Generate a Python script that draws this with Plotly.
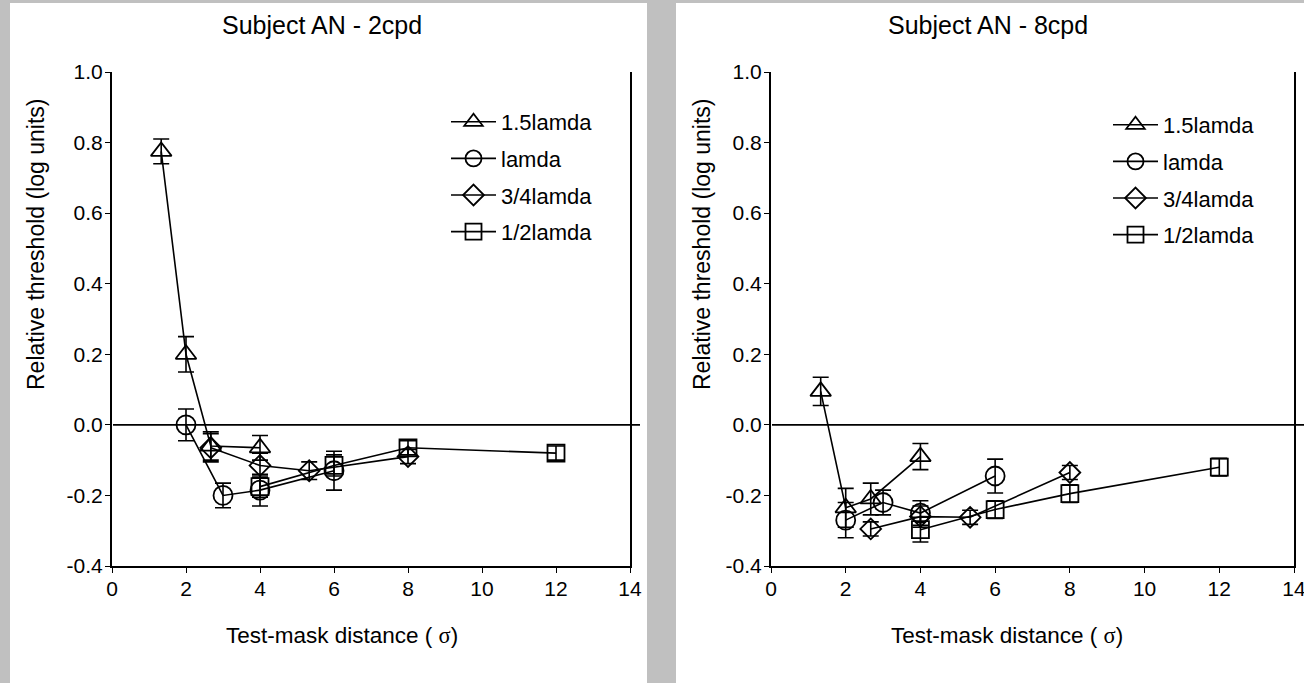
import plotly.graph_objects as go

W, H = 1304, 683

series_names = ["1.5lamda", "lamda", "3/4lamda", "1/2lamda"]
series_symbols = ["triangle-up-open", "circle-open", "diamond-open", "square-open"]
series_sizes = [18, 19, 16, 17]

x_tri = [1.33, 2.0, 2.67, 4.0]
x_cir = [2.0, 3.0, 4.0, 6.0]
x_dia = [2.67, 4.0, 5.33, 8.0]
x_sq = [4.0, 6.0, 8.0, 12.0]

# Subject AN - 2cpd
l_tri = [0.775, 0.20, -0.06, -0.065]
l_tri_err = [0.035, 0.05, 0.04, 0.035]
l_cir = [0.0, -0.20, -0.185, -0.13]
l_cir_err = [0.045, 0.035, 0.045, 0.055]
l_dia = [-0.065, -0.115, -0.13, -0.09]
l_dia_err = [0.04, 0.035, 0.025, 0.02]
l_sq = [-0.175, -0.115, -0.065, -0.08]
l_sq_err = [0.03, 0.03, 0.02, 0.02]

# Subject AN - 8cpd
r_tri = [0.095, -0.235, -0.21, -0.09]
r_tri_err = [0.04, 0.055, 0.045, 0.037]
r_cir = [-0.27, -0.22, -0.25, -0.145]
r_cir_err = [0.05, 0.035, 0.035, 0.048]
r_dia = [-0.295, -0.26, -0.262, -0.135]
r_dia_err = [0.02, 0.03, 0.02, 0.02]
r_sq = [-0.297, -0.24, -0.195, -0.12]
r_sq_err = [0.035, 0.025, 0.025, 0.025]

x_ticks = [0, 2, 4, 6, 8, 10, 12, 14]
y_tick_vals = [-0.4, -0.2, 0.0, 0.2, 0.4, 0.6, 0.8, 1.0]
y_tick_text = ["-0.4", "-0.2", "0.0", "0.2", "0.4", "0.6", "0.8", "1.0"]

panel_titles = ["Subject AN - 2cpd", "Subject AN - 8cpd"]
x_title = "Test-mask distance ( <span style='font-family:\"Liberation Serif\", \"Times New Roman\", serif'>σ</span>)"
y_title = "Relative threshold (log units)"

FONT = "Arial, 'Liberation Sans', sans-serif"

def px(x):
    return x / W

def py(y):
    return 1 - y / H

fig = go.Figure()

panels = [
    ("x", "y", "legend", [x_tri, x_cir, x_dia, x_sq],
     [l_tri, l_cir, l_dia, l_sq], [l_tri_err, l_cir_err, l_dia_err, l_sq_err]),
    ("x2", "y2", "legend2", [x_tri, x_cir, x_dia, x_sq],
     [r_tri, r_cir, r_dia, r_sq], [r_tri_err, r_cir_err, r_dia_err, r_sq_err]),
]

for xa, ya, leg, xs, ys, es in panels:
    for i in range(4):
        fig.add_trace(go.Scatter(
            x=xs[i], y=ys[i], xaxis=xa, yaxis=ya,
            name=series_names[i], legend=leg, legendgroup=f"{leg}_{i}",
            mode="lines+markers",
            line=dict(color="black", width=1.6),
            marker=dict(symbol=series_symbols[i], size=series_sizes[i],
                        color="black", line=dict(color="black", width=1.8)),
            error_y=dict(type="data", array=es[i], visible=True,
                         color="black", thickness=1.6, width=8),
        ))

# layout geometry (pixels)
L_x0, L_x1 = 112, 630
R_x0, R_x1 = 771, 1294
Y_top, Y_bot = 72, 566

axis_common = dict(
    showgrid=False, zeroline=False, showline=True, linecolor="black",
    linewidth=2, ticks="outside", ticklen=5, tickwidth=1.2, tickcolor="black",
    automargin=False, ticklabeloverflow="allow", ticklabelstandoff=-2,
    tickfont=dict(family=FONT, size=21, color="black"),
)

legend_common = dict(xanchor="left", yanchor="top",
                     bgcolor="rgba(0,0,0,0)", borderwidth=0, tracegroupgap=5,
                     itemsizing="trace", itemwidth=45,
                     font=dict(family=FONT, size=22, color="black"))

fig.update_layout(
    width=W, height=H, autosize=False,
    margin=dict(l=0, r=0, t=0, b=0, pad=0, autoexpand=False),
    paper_bgcolor="#c0c0c0",
    plot_bgcolor="white",
    showlegend=True,
    xaxis=dict(domain=[px(L_x0), px(L_x1)], anchor="y", range=[0, 14],
               tickvals=x_ticks, **axis_common),
    yaxis=dict(domain=[py(Y_bot), py(Y_top)], anchor="x", range=[-0.4, 1.0],
               tickvals=y_tick_vals, ticktext=y_tick_text, mirror=True, **axis_common),
    xaxis2=dict(domain=[px(R_x0), px(R_x1)], anchor="y2", range=[0, 14],
                tickvals=x_ticks, **axis_common),
    yaxis2=dict(domain=[py(Y_bot), py(Y_top)], anchor="x2", range=[-0.4, 1.0],
                tickvals=y_tick_vals, ticktext=y_tick_text, mirror=True, **axis_common),
    legend=dict(x=px(446), y=py(101), **legend_common),
    legend2=dict(x=px(1108), y=py(104), **legend_common),
)

shapes = [
    dict(type="rect", xref="paper", yref="paper", x0=px(10), x1=px(647),
         y0=py(683), y1=py(3), fillcolor="white", line=dict(width=0), layer="below"),
    dict(type="rect", xref="paper", yref="paper", x0=px(676), x1=px(1304),
         y0=py(683), y1=py(3), fillcolor="white", line=dict(width=0), layer="below"),
    dict(type="line", xref="paper", yref="y", x0=px(L_x0 + 1), x1=px(640),
         y0=0, y1=0, line=dict(color="black", width=1.6)),
    dict(type="line", xref="paper", yref="y2", x0=px(R_x0 + 1), x1=px(1304),
         y0=0, y1=0, line=dict(color="black", width=1.6)),
]
fig.update_layout(shapes=shapes)

annotations = []
for cx, t in zip([322, 988], panel_titles):
    annotations.append(dict(text=t, x=px(cx), y=py(25), xref="paper", yref="paper",
                            xanchor="center", yanchor="middle", showarrow=False,
                            font=dict(family=FONT, size=25, color="black")))
for cx in [342, 1007]:
    annotations.append(dict(text=x_title, x=px(cx), y=py(635), xref="paper", yref="paper",
                            xanchor="center", yanchor="middle", showarrow=False,
                            font=dict(family=FONT, size=22.5, color="black")))
for cx in [36, 702]:
    annotations.append(dict(text=y_title, x=px(cx), y=py(245), xref="paper", yref="paper",
                            xanchor="center", yanchor="middle", showarrow=False, textangle=-90,
                            font=dict(family=FONT, size=23, color="black")))
fig.update_layout(annotations=annotations)

fig.write_html(
    "out.html",
    config={"displayModeBar": False},
    post_script="document.body.style.margin='0';document.body.style.overflow='hidden';",
)
